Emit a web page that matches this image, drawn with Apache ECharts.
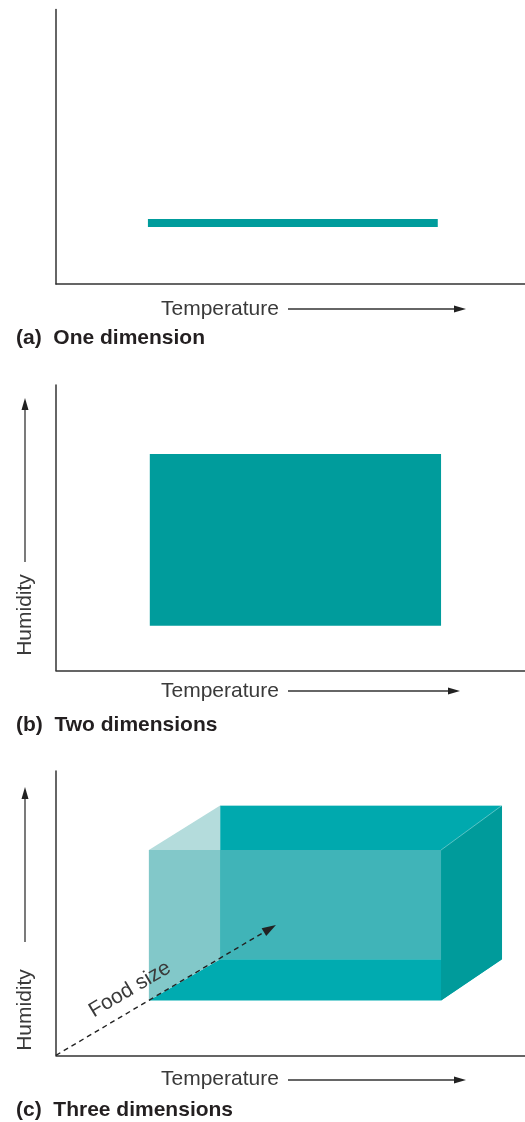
<!DOCTYPE html>
<html><head><meta charset="utf-8">
<script src="https://cdn.jsdelivr.net/npm/echarts@6/dist/echarts.min.js"></script>
<style>html,body{margin:0;padding:0;background:#fff}#c{width:525px;height:1122px}</style>
</head><body><div id="c"></div>
<script>
// ---- data (arbitrary 0-100 niche units) ----
const panelTitles = ['(a)  One dimension', '(b)  Two dimensions', '(c)  Three dimensions'];
const axisNames = ['Temperature', 'Humidity', 'Food size'];
const tempRange1D = [19.6, 81.4];
const humidityLevel1D = 22.2;
const tempRange2D = [20.0, 82.1];
const humidityRange2D = [15.7, 75.8];
const frontTemp3D = [19.8, 82.1];
const frontHumidity3D = [19.3, 72.2];
const backTemp3D = [35.0, 95.1];
const backHumidity3D = [33.8, 87.9];
const foodSizeAxis = [[0, 0], [46.9, 45.8]];

const FONT = 'Liberation Sans, Arial, sans-serif';
const TEXT = '#3a3a3a';
const AXIS = '#333';

const grids = [
  {left: 56, right: 0, top: 9.5, height: 274.5},
  {left: 56, right: 0, top: 385, height: 285.5},
  {left: 56, right: 0, top: 771, height: 284.3}
];
function xAx(i){return {gridIndex:i,type:'value',min:0,max:100,axisLine:{show:true,onZero:false,lineStyle:{color:AXIS,width:1.5}},axisTick:{show:false},axisLabel:{show:false},splitLine:{show:false}};}
function yAx(i){return {gridIndex:i,type:'value',min:0,max:100,axisLine:{show:true,onZero:false,lineStyle:{color:AXIS,width:1.5}},axisTick:{show:false},axisLabel:{show:false},splitLine:{show:false}};}

function hArrow(x1, x2, y){
  return [
    {type:'line',shape:{x1:x1,y1:y,x2:x2-10,y2:y},style:{stroke:'#333',lineWidth:1.3}},
    {type:'polygon',shape:{points:[[x2,y],[x2-12,y-3.5],[x2-12,y+3.5]]},style:{fill:'#222'}}
  ];
}
function vArrow(x, y1, y2){
  return [
    {type:'line',shape:{x1:x,y1:y1,x2:x,y2:y2+10},style:{stroke:'#333',lineWidth:1.3}},
    {type:'polygon',shape:{points:[[x,y2],[x-3.5,y2+12],[x+3.5,y2+12]]},style:{fill:'#222'}}
  ];
}
function txt(s, x, y){
  return {type:'text',x:x,y:y,style:{text:s,fill:TEXT,font:'21px '+FONT,textVerticalAlign:'middle',textAlign:'left'}};
}
function title(s, y){
  return {type:'text',x:16,y:y,style:{text:s,fill:'#231f20',font:'bold 21px '+FONT,textVerticalAlign:'middle'}};
}
function humidity(cy){
  return {type:'text',x:25,y:cy,rotation:Math.PI/2,style:{text:axisNames[1],fill:TEXT,font:'21px '+FONT,textAlign:'center',textVerticalAlign:'middle'}};
}

const graphics = [].concat(
  [txt(axisNames[0],161,309)], hArrow(288,466,309), [title(panelTitles[0],338)],
  [txt(axisNames[0],161,691)], hArrow(288,460,691), [title(panelTitles[1],725)],
  [humidity(615)], vArrow(25,562,398),
  [txt(axisNames[0],161,1079)], hArrow(288,466,1080), [title(panelTitles[2],1110)],
  [humidity(1010)], vArrow(25,942,787)
);

function renderRect(params, api){
  const a = api.coord([api.value(0), api.value(3)]);
  const b = api.coord([api.value(1), api.value(2)]);
  return {type:'rect',shape:{x:a[0],y:a[1],width:b[0]-a[0],height:b[1]-a[1]},style:{fill:'#009c9c'}};
}

function renderBox(params, api){
  const fTL = api.coord([frontTemp3D[0], frontHumidity3D[1]]);
  const fTR = api.coord([frontTemp3D[1], frontHumidity3D[1]]);
  const fBL = api.coord([frontTemp3D[0], frontHumidity3D[0]]);
  const fBR = api.coord([frontTemp3D[1], frontHumidity3D[0]]);
  const bTL = api.coord([backTemp3D[0], backHumidity3D[1]]);
  const bTR = api.coord([backTemp3D[1], backHumidity3D[1]]);
  const bBL = api.coord([backTemp3D[0], backHumidity3D[0]]);
  const bBR = api.coord([backTemp3D[1], backHumidity3D[0]]);
  const poly = (pts, fill) => ({type:'polygon',shape:{points:pts},style:{fill:fill}});
  return {type:'group',children:[
    poly([bTL,bTR,bBR,bBL], '#00a9ae'),
    poly([fBL,fBR,bBR,bBL], '#00abb0'),
    poly([fTR,bTR,bBR,fBR], '#009b9b'),
    poly([[bTL[0],fTL[1]],fTR,[fTR[0],bBL[1]],bBL], '#40b4b8'),
    poly([fTL,[bTL[0],fTL[1]],bBL,fBL], '#82c8c9'),
    poly([fTL,bTL,[bTL[0],fTL[1]]], '#b4dcdc'),
    {type:'polyline',shape:{points:[bTL,bTR,fTR]},style:{stroke:'rgba(255,255,255,0.35)',lineWidth:1,fill:null}}
  ]};
}

function renderFoodArrow(params, api){
  const s = api.coord(foodSizeAxis[0]);
  const e = api.coord(foodSizeAxis[1]);
  const ang = Math.atan2(e[1]-s[1], e[0]-s[0]);
  const ux = Math.cos(ang), uy = Math.sin(ang);
  const L = 14, W = 4.5;
  const base = [e[0]-ux*L, e[1]-uy*L];
  const nx = -uy, ny = ux;
  const t = 0.38;
  const p = [s[0]+(e[0]-s[0])*t, s[1]+(e[1]-s[1])*t];
  const off = 19;
  return {type:'group',children:[
    {type:'line',shape:{x1:s[0],y1:s[1],x2:base[0]+ux*2,y2:base[1]+uy*2},style:{stroke:'#222',lineWidth:1.4,lineDash:[5,4]}},
    {type:'polygon',shape:{points:[e,[base[0]+nx*W,base[1]+ny*W],[base[0]-nx*W,base[1]-ny*W]]},style:{fill:'#222'}},
    {type:'text',x:p[0]-nx*off,y:p[1]-ny*off,rotation:-ang,style:{text:axisNames[2],fill:TEXT,font:'21px '+FONT,textAlign:'center',textVerticalAlign:'middle'}}
  ]};
}

const option = {
  animation:false,
  backgroundColor:'#fff',
  grid: grids,
  xAxis:[xAx(0),xAx(1),xAx(2)],
  yAxis:[yAx(0),yAx(1),yAx(2)],
  graphic: graphics,
  series:[
    {type:'line',xAxisIndex:0,yAxisIndex:0,symbol:'none',silent:true,
     data:[[tempRange1D[0],humidityLevel1D],[tempRange1D[1],humidityLevel1D]],
     lineStyle:{color:'#009c9c',width:8,cap:'butt'}},
    {type:'custom',xAxisIndex:1,yAxisIndex:1,silent:true,renderItem:renderRect,
     data:[[tempRange2D[0],tempRange2D[1],humidityRange2D[0],humidityRange2D[1]]]},
    {type:'custom',xAxisIndex:2,yAxisIndex:2,silent:true,renderItem:renderBox,clip:false,
     data:[[frontTemp3D[0],frontTemp3D[1],frontHumidity3D[0],frontHumidity3D[1]]]},
    {type:'custom',xAxisIndex:2,yAxisIndex:2,silent:true,renderItem:renderFoodArrow,clip:false,z:5,
     data:[[foodSizeAxis[0][0],foodSizeAxis[0][1]]]}
  ]
};
const chart = echarts.init(document.getElementById('c'), null, {renderer:'canvas'});
chart.setOption(option);
</script></body></html>
